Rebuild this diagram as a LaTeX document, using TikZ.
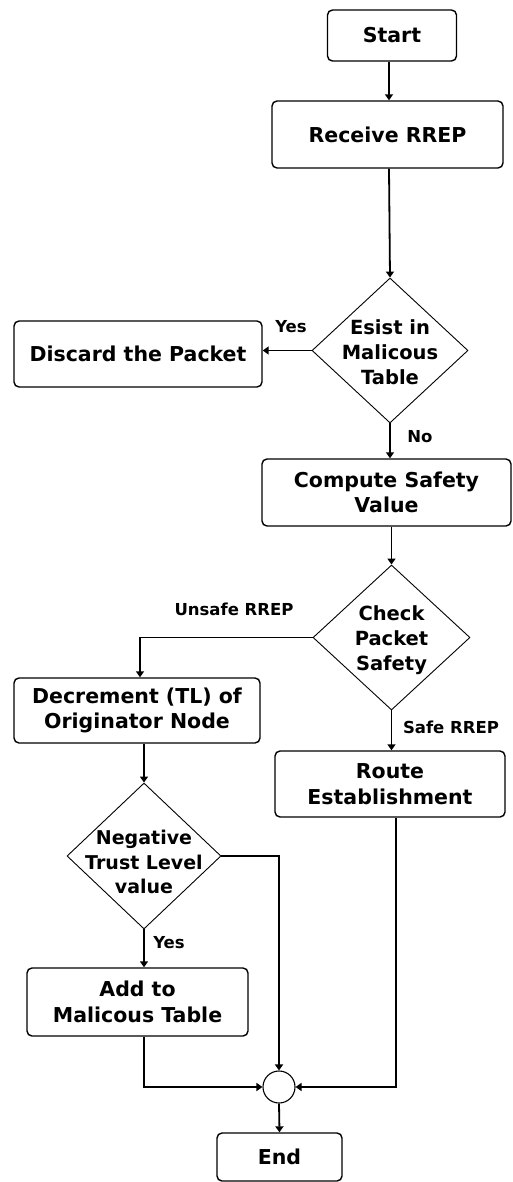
\documentclass[tikz,border=0pt]{standalone}
\usepackage{fontspec}
\setmainfont{DejaVu Sans}
\usetikzlibrary{shapes.geometric,arrows.meta,positioning}
\begin{document}
\begin{tikzpicture}[x=1pt,y=-1pt,
  box/.style={draw, line width=1.4pt, rounded corners=5pt, align=center, inner sep=0pt,
    font=\fontsize{20.5}{25.5}\selectfont\bfseries},
  dec/.style={draw, diamond, line width=0.9pt, inner sep=0pt},
  dectext/.style={align=center, inner sep=0pt, font=\fontsize{19.5}{25}\selectfont\bfseries},
  lbl/.style={font=\fontsize{16.5}{20}\selectfont\bfseries, inner sep=0pt},
  conn/.style={line width=1.8pt},
  arr/.style={conn, -{Triangle[length=6pt,width=8pt]}}
]
\useasboundingbox (0,0) rectangle (512,1182);
% boxes
\node[box, minimum width=129pt, minimum height=51pt] (start) at (392,35.5) {Start};
\node[box, minimum width=231pt, minimum height=67pt] (recv) at (387.5,134.5) {Receive RREP};
\node[dec, minimum width=156pt, minimum height=145pt] (exist) at (390,350.5) {};
\node[dectext] (exist-t) at ([yshift=-1.5pt]exist.center) {Esist in\\Malicous\\Table};
\node[box, minimum width=248pt, minimum height=66pt] (discard) at (138,354) {Discard the Packet};
\node[box, minimum width=249pt, minimum height=67pt] (comp) at (386.5,492.5) {Compute Safety\\Value};
\node[dec, minimum width=157pt, minimum height=145pt] (check) at (391.5,637.5) {};
\node[dectext] (check-t) at ([yshift=-3pt]check.center) {Check\\Packet\\Safety};
\node[box, minimum width=246pt, minimum height=65pt] (decr) at (137,710.5) {Decrement (TL) of\\Originator Node};
\node[box, minimum width=230pt, minimum height=66pt] (route) at (390,784) {Route\\Establishment};
\node[dec, minimum width=154pt, minimum height=146pt] (neg) at (144,856) {};
\node[dectext, font=\fontsize{19}{24.5}\selectfont\bfseries] (neg-t) at ([yshift=-6pt]neg.center) {Negative\\Trust Level\\value};
\node[box, minimum width=221pt, minimum height=68pt] (add) at (137.5,1002) {Add to\\Malicous Table};
\node[draw, circle, line width=1.1pt, minimum size=32pt, inner sep=0pt] (join) at (279,1087) {};
\node[box, minimum width=125pt, minimum height=48pt] (end) at (279.5,1157) {End};
% connectors
\draw[arr] (start.south -| 389,0) -- (recv.north -| 389,0);
\draw[arr] (recv.south -| 389,0) -- (exist.north);
\draw[arr] (exist.west) -- (discard.east |- exist.west);
\draw[arr] (exist.south) -- (comp.north -| exist.south);
\draw[arr] (comp.south -| check.north) -- (check.north);
\draw[arr] (check.west) -| (decr.north -| 140,0);
\draw[arr] (check.south) -- (route.north -| check.south);
\draw[arr] (decr.south -| neg.north) -- (neg.north);
\draw[arr] (neg.south) -- (add.north -| neg.south);
\draw[arr] (neg.east) -| (join.north);
\draw[arr] (add.south -| neg.south) |- (join.west);
\draw[arr] (route.south -| 396,0) |- (join.east);
\draw[arr] (join.south) -- (end.north);
% labels
\node[lbl] (lyes1) at (291,327) {Yes};
\node[lbl] (lno) at (420,437) {No};
\node[lbl] (lunsafe) at (234,609) {Unsafe RREP};
\node[lbl] (lsafe) at (451,727) {Safe RREP};
\node[lbl] (lyes2) at (169,943) {Yes};
\end{tikzpicture}
\end{document}
